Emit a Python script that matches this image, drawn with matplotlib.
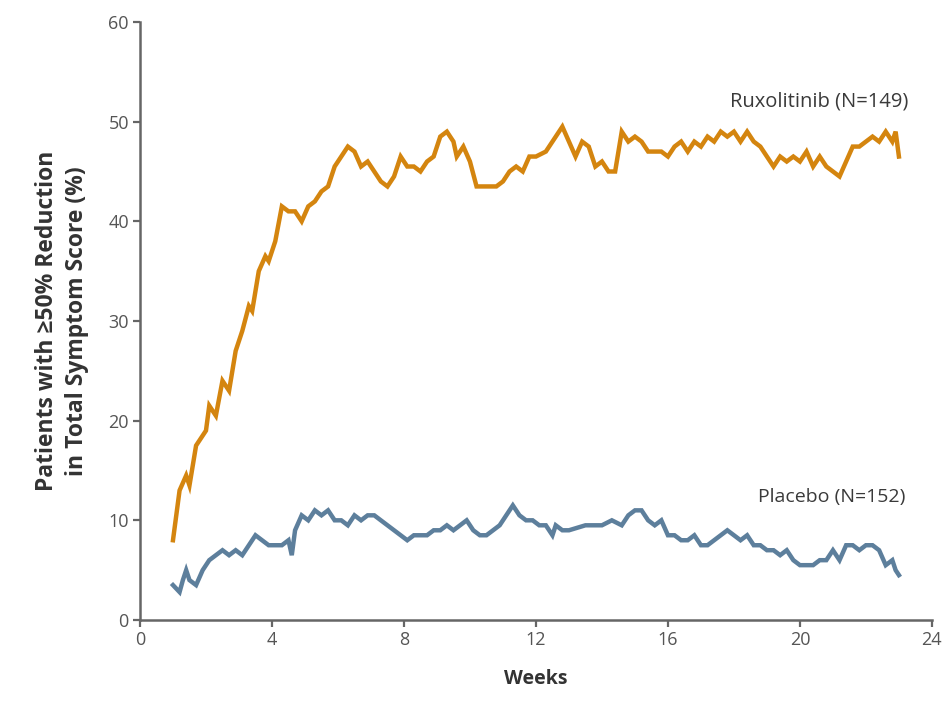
import numpy as np
import matplotlib.pyplot as plt

plt.rcParams['font.family'] = ['Open Sans', 'DejaVu Sans']

# Ruxolitinib arm
rux_weeks = [1.0, 1.2, 1.4, 1.5, 1.7, 2.0, 2.1, 2.3, 2.5, 2.7, 2.9, 3.1, 3.3, 3.4, 3.6, 3.8, 3.9,
             4.1, 4.3, 4.5, 4.7, 4.9, 5.1, 5.3, 5.5, 5.7, 5.9, 6.1, 6.3, 6.5, 6.7, 6.9, 7.1, 7.3,
             7.5, 7.7, 7.9, 8.1, 8.3, 8.5, 8.7, 8.9, 9.1, 9.3, 9.5, 9.6, 9.8, 10.0, 10.2, 10.4,
             10.8, 11.0, 11.2, 11.4, 11.6, 11.8, 12.0, 12.3, 12.5, 12.8, 13.0, 13.2, 13.4, 13.6,
             13.8, 14.0, 14.2, 14.4, 14.6, 14.8, 15.0, 15.2, 15.4, 15.8, 16.0, 16.2, 16.4, 16.6,
             16.8, 17.0, 17.2, 17.4, 17.6, 17.8, 18.0, 18.2, 18.4, 18.6, 18.8, 19.0, 19.2, 19.4,
             19.6, 19.8, 20.0, 20.2, 20.4, 20.6, 20.8, 21.0, 21.2, 21.4, 21.6, 21.8, 22.0, 22.2,
             22.4, 22.6, 22.8, 22.9, 23.0]
rux_pct = [8, 13, 14.5, 13.5, 17.5, 19, 21.5, 20.5, 24, 23, 27, 29, 31.5, 31, 35, 36.5, 36,
           38, 41.5, 41, 41, 40, 41.5, 42, 43, 43.5, 45.5, 46.5, 47.5, 47, 45.5, 46, 45, 44,
           43.5, 44.5, 46.5, 45.5, 45.5, 45, 46, 46.5, 48.5, 49, 48, 46.5, 47.5, 46, 43.5, 43.5,
           43.5, 44, 45, 45.5, 45, 46.5, 46.5, 47, 48, 49.5, 48, 46.5, 48, 47.5,
           45.5, 46, 45, 45, 49, 48, 48.5, 48, 47, 47, 46.5, 47.5, 48, 47,
           48, 47.5, 48.5, 48, 49, 48.5, 49, 48, 49, 48, 47.5, 46.5, 45.5, 46.5,
           46, 46.5, 46, 47, 45.5, 46.5, 45.5, 45, 44.5, 46, 47.5, 47.5, 48, 48.5,
           48, 49, 48, 49, 46.5]

# Placebo arm
pbo_weeks = [1.0, 1.2, 1.3, 1.4, 1.5, 1.7, 1.9, 2.1, 2.3, 2.5, 2.7, 2.9, 3.1, 3.3, 3.5, 3.7,
             3.9, 4.1, 4.3, 4.5, 4.6, 4.7, 4.9, 5.1, 5.3, 5.5, 5.7, 5.9, 6.1, 6.3, 6.5, 6.7,
             6.9, 7.1, 7.3, 7.5, 7.7, 7.9, 8.1, 8.3, 8.5, 8.7, 8.9, 9.1, 9.3, 9.5, 9.7, 9.9,
             10.1, 10.3, 10.5, 10.7, 10.9, 11.1, 11.3, 11.5, 11.7, 11.9, 12.1, 12.3, 12.5, 12.6,
             12.8, 13.0, 13.5, 14.0, 14.3, 14.6, 14.8, 15.0, 15.2, 15.4, 15.6, 15.8, 16.0, 16.2,
             16.4, 16.6, 16.8, 17.0, 17.2, 17.4, 17.6, 17.8, 18.0, 18.2, 18.4, 18.6, 18.8, 19.0,
             19.2, 19.4, 19.6, 19.8, 20.0, 20.4, 20.6, 20.8, 21.0, 21.2, 21.4, 21.6, 21.8, 22.0,
             22.2, 22.4, 22.6, 22.8, 22.9, 23.0]
pbo_pct = [3.5, 2.8, 4, 5, 4, 3.5, 5, 6, 6.5, 7, 6.5, 7, 6.5, 7.5, 8.5, 8,
           7.5, 7.5, 7.5, 8, 6.5, 9, 10.5, 10, 11, 10.5, 11, 10, 10, 9.5, 10.5, 10,
           10.5, 10.5, 10, 9.5, 9, 8.5, 8, 8.5, 8.5, 8.5, 9, 9, 9.5, 9, 9.5, 10,
           9, 8.5, 8.5, 9, 9.5, 10.5, 11.5, 10.5, 10, 10, 9.5, 9.5, 8.5, 9.5,
           9, 9, 9.5, 9.5, 10, 9.5, 10.5, 11, 11, 10, 9.5, 10, 8.5, 8.5,
           8, 8, 8.5, 7.5, 7.5, 8, 8.5, 9, 8.5, 8, 8.5, 7.5, 7.5, 7,
           7, 6.5, 7, 6, 5.5, 5.5, 6, 6, 7, 6, 7.5, 7.5, 7, 7.5,
           7.5, 7, 5.5, 6, 5, 4.5]

xticks = [0, 4, 8, 12, 16, 20, 24]
yticks = [0, 10, 20, 30, 40, 50, 60]

fig = plt.figure(figsize=(9.49, 7.05), dpi=100)
ax = fig.add_axes([0.1475, 0.1206, 0.8345, 0.8482])

ax.plot(rux_weeks, rux_pct, color='#d4850f', lw=3.2, solid_joinstyle='miter')
ax.plot(pbo_weeks, pbo_pct, color='#5d7f9c', lw=3.2, solid_joinstyle='miter')

ax.text(23.3, 52, 'Ruxolitinib (N=149)', ha='right', va='center', fontsize=14.5, color='#3a3a3a')
ax.text(23.2, 12.3, 'Placebo (N=152)', ha='right', va='center', fontsize=14, color='#3a3a3a')

ax.set_xlim(0, 24)
ax.set_ylim(0, 60)
ax.set_xticks(xticks)
ax.set_yticks(yticks)

for side in ['top', 'right']:
    ax.spines[side].set_visible(False)
for side in ['left', 'bottom']:
    ax.spines[side].set_color('#666666')
    ax.spines[side].set_linewidth(1.8)
ax.tick_params(direction='out', length=5, width=1.6, color='#666666', pad=3,
               labelsize=13, labelcolor='#555555')

ax.set_xlabel('Weeks', fontsize=14, fontweight='bold', color='#333333', labelpad=14)
ax.set_ylabel('Patients with \u226550% Reduction\nin Total Symptom Score (%)',
              fontsize=16.5, fontweight='bold', color='#333333', labelpad=14, linespacing=1.3)

plt.savefig('out.png', dpi=100)
